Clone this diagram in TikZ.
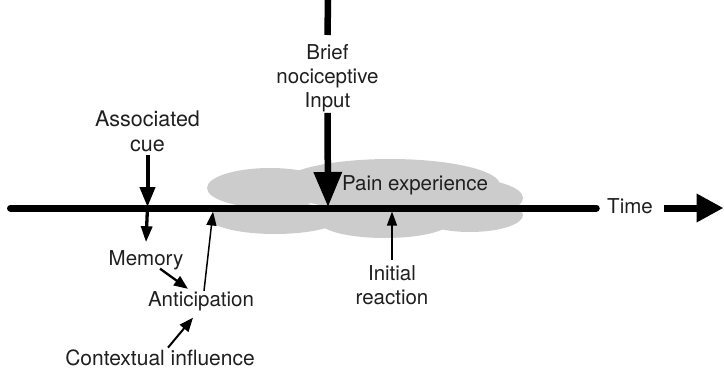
\documentclass[tikz,border=0pt]{standalone}
\usepackage{fontspec}
\setmainfont{TeX Gyre Heros}
\usetikzlibrary{arrows.meta}
\begin{document}
\begin{tikzpicture}[x=1pt,y=-1pt,
  lbl/.style={font=\fontsize{#1}{24.5}\selectfont, text=black!88, inner sep=0pt, align=center},
  lbl/.default=20.5,
  cloudpart/.style={fill=gray!40, draw=none},
  axisline/.style={line width=7pt},
  heavyarrow/.style={line width=6.5pt, -{Triangle[length=35pt,width=27pt]}},
  cuearrow/.style={line width=4pt, -{Triangle[length=20pt,width=15pt]}},
  midarrow/.style={line width=3.3pt, -{Triangle[length=16pt,width=11pt]}},
  slantarrow/.style={line width=2.3pt, -{Triangle[length=14pt,width=11pt]}},
  thinarrow/.style={line width=1.5pt, -{Triangle[length=14pt,width=10pt]}}
]
\useasboundingbox (0,0) rectangle (724,372);

% the pain cloud, built from overlapping ellipses
\fill[cloudpart] (270,188) ellipse [x radius=63, y radius=20];
\fill[cloudpart] (390,185) ellipse [x radius=110, y radius=26];
\fill[cloudpart] (460,198) ellipse [x radius=63, y radius=20];
\fill[cloudpart] (275,218) ellipse [x radius=65, y radius=16];
\fill[cloudpart] (385,222) ellipse [x radius=65, y radius=16];
\fill[cloudpart] (470,215) ellipse [x radius=53, y radius=17];

% labels
\node[lbl, anchor=north, font=\fontsize{20.5}{24}\selectfont] (brief) at (327.5,44) {Brief\\nociceptive\\Input};
\node[lbl=21.5, anchor=north, font=\fontsize{21.5}{25}\selectfont] (cue) at (147.5,111) {Associated\\cue};
\node[lbl, anchor=base] (pain) at (415,190) {Pain experience};
\node[lbl, anchor=base] (time) at (630,213) {Time};
\node[lbl, anchor=base] (memory) at (146,265) {Memory};
\node[lbl, anchor=base] (antic) at (201,306) {Anticipation};
\node[lbl=21, anchor=base] (context) at (160,365) {Contextual influence};
\node[lbl, anchor=north, font=\fontsize{20.5}{24}\selectfont] (initial) at (392,265) {Initial\\reaction};

% points on the time axis
\coordinate (axL) at (10.5,208);
\coordinate (axR) at (723.5,208);
\coordinate (briefTop) at (328,0);
\coordinate (briefA) at (328,207);
\coordinate (cueA) at (147.5,207);
\coordinate (anticA) at (213,211.5);
\coordinate (initialA) at (392,211.5);

% time axis
\draw[axisline, line cap=round, shorten >=10.75pt] (axL) -- (time.west |- axL);
\draw[axisline, shorten <=11pt, -{Triangle[length=27pt,width=27pt]}] (time.east |- axL) -- (axR);

% brief nociceptive input
\draw[line width=6.5pt] (briefTop) -- ([yshift=9pt]brief.north);
\draw[heavyarrow] ([yshift=-1pt]brief.south) -- (briefA);

% associated cue and memory
\draw[cuearrow] ([yshift=-3pt]cue.south) -- (cueA);
\draw[midarrow] (cueA) -- ([yshift=7.6pt]memory.north);
\draw[slantarrow] ([xshift=14pt,yshift=1pt]memory.south) -- ([xshift=-13pt,yshift=2pt]antic.north);
\draw[line width=2pt, -{Triangle[length=14pt,width=11pt]}] ([xshift=8pt,yshift=1.5pt]context.north) -- ([xshift=-8pt,yshift=-7pt]antic.south);
\draw[thinarrow] ([xshift=3pt]antic.north) -- (anticA);

% initial reaction
\draw[thinarrow] ([yshift=5pt]initial.north) -- (initialA);
\end{tikzpicture}
\end{document}
